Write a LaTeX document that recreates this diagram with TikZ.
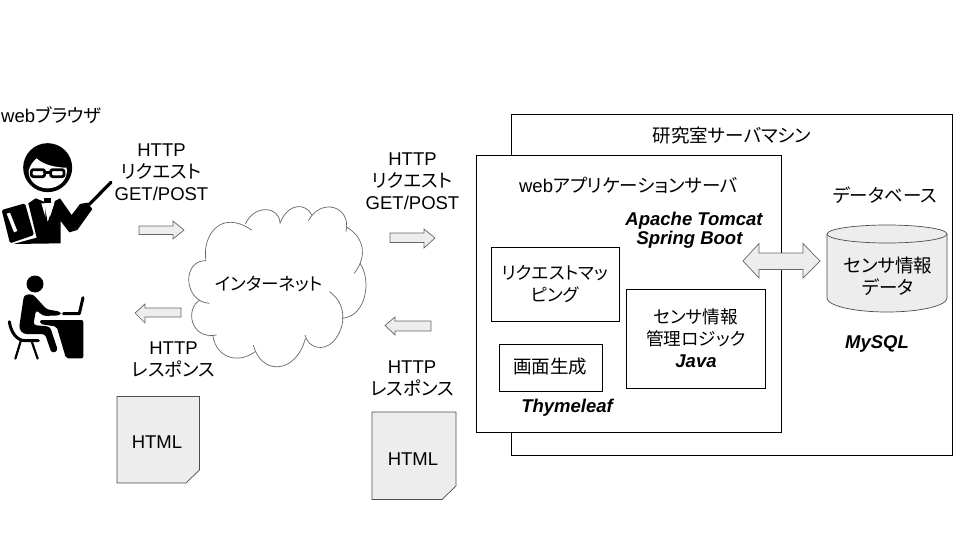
\documentclass[tikz,border=0pt]{standalone}
\usepackage{fontspec}
\setmainfont{Liberation Sans}
\newfontfamily\cjk[RawFeature=+palt]{Noto Sans CJK JP}
\newcommand{\J}[1]{{\cjk #1}}
\tikzset{
  x=1pt,y=-1pt,
  lab/.style={font=\fontsize{18.5}{22}\selectfont,align=center,inner sep=0pt},
  labk/.style={font=\fontsize{17.6}{22}\selectfont,align=center,inner sep=0pt},
  bi/.style={font=\fontsize{18.5}{19}\selectfont\bfseries\itshape,align=center,inner sep=0pt},
  box/.style={draw=black,fill=white,line width=.9pt},
  blockarrow/.style={draw=black!60,fill=black!7,line width=.7pt,line join=miter},
  docshape/.style={draw=black!70,fill=black!7,line width=.7pt},
  cloudline/.style={draw=black!60,line width=.7pt},
  picline/.style={draw=black,line cap=round,line join=round},
}
\begin{document}
\begin{tikzpicture}
\useasboundingbox (0,0) rectangle (960,540);
% servers
\node[box,anchor=north west,minimum width=441pt,minimum height=341pt,inner sep=0pt] (srv) at (511,114) {};
\node[box,anchor=north west,minimum width=305pt,minimum height=277pt,inner sep=0pt] (app) at (476,155) {};
\node[box,anchor=north west,minimum width=128pt,minimum height=74pt,inner sep=0pt] (map) at (491,247) {};
\node[box,anchor=north west,minimum width=103pt,minimum height=47pt,inner sep=0pt] (gen) at (499,344) {};
\node[box,anchor=north west,minimum width=139pt,minimum height=99pt,inner sep=0pt] (logic) at (626,289) {};
\node[lab] (tsrv) at (732,135) {\J{研究室サーバマシン}};
\node[lab] (tapp) at (628.5,185) {web\J{アプリケーションサーバ}};
\node[bi] (tomcat) at (694,220.5) {Apache Tomcat};
\node[bi] (tspring) at (689.5,239.5) {Spring Boot};
\node[lab] (tdb) at (885,195) {\J{データベース}};
\node[labk] (tmap) at (555,284) {\J{リクエストマッ}\\\J{ピング}};
\node[lab] (tgen) at (550,367) {\J{画面生成}};
\node[labk] (tlogic) at (696,327.5) {\J{センサ情報}\\\J{管理ロジック}};
\node[bi] (tjava) at (696,361.5) {Java};
\node[bi] (tthy) at (567,408) {Thymeleaf};
\node[bi] (tmy) at (877,344) {MySQL};
% double arrow
\draw[blockarrow] (743,261) -- (759,243.5) -- (759,253) -- (803,253) -- (803,243.5) -- (820,261) -- (803,278) -- (803,269.5) -- (759,269.5) -- (759,278) -- cycle;
% cylinder
\draw[draw=black!70,fill=black!7,line width=.7pt] (827,234) -- (827,298) arc[start angle=180,end angle=0,x radius=60,y radius=14] -- (947,234) arc[start angle=0,end angle=-180,x radius=60,y radius=9] -- cycle;
\draw[draw=black!70,line width=.7pt] (827,234) arc[start angle=180,end angle=0,x radius=60,y radius=9];
\node[lab] (tdata) at (888,276) {\J{センサ情報}\\\J{データ}};
% cloud
\begin{scope}[shift={(120,180)},x=.33333pt,y=-.33333pt]
\fill[white] (258,242) .. controls (245,170) and (300,100) .. (385,140) .. controls (410,70) and (470,70) .. (480,130) .. controls (510,60) and (560,70) .. (570,110) .. controls (620,50) and (690,90) .. (678,140) .. controls (730,170) and (740,220) .. (715,255) .. controls (750,300) and (740,410) .. (665,415) .. controls (670,470) and (600,530) .. (553,490) .. controls (530,570) and (430,590) .. (402,515) .. controls (360,550) and (290,540) .. (278,470) .. controls (210,470) and (200,390) .. (235,362) .. controls (190,340) and (200,240) .. (258,242) -- cycle;
\draw[cloudline] (258,242) .. controls (245,170) and (300,85) .. (395,150);
\draw[cloudline] (376,132) .. controls (405,70) and (480,80) .. (480,130);
\draw[cloudline] (480,130) .. controls (505,65) and (560,70) .. (575,105);
\draw[cloudline] (565,122) .. controls (605,50) and (695,80) .. (678,155);
\draw[cloudline] (678,140) .. controls (730,170) and (745,225) .. (703,280);
\draw[cloudline] (720,250) .. controls (755,300) and (740,410) .. (665,415);
\draw[cloudline] (628,335) .. controls (680,370) and (680,440) .. (640,485) .. controls (610,515) and (565,505) .. (555,465);
\draw[cloudline] (556,475) .. controls (530,580) and (425,590) .. (400,495);
\draw[cloudline] (405,515) .. controls (360,550) and (290,540) .. (278,465);
\draw[cloudline] (290,465) .. controls (210,480) and (195,385) .. (240,360);
\draw[cloudline] (268,370) .. controls (190,365) and (185,240) .. (258,242);
\end{scope}
\node[labk] (tnet) at (269,284) {\J{インターネット}};
% block arrows
\draw[blockarrow] (139,226) -- (173,226) -- (173,221) -- (184,230) -- (173,239) -- (173,234.5) -- (139,234.5) -- cycle;
\draw[blockarrow] (390,233) -- (424,233) -- (424,229) -- (435,238) -- (424,248) -- (424,242.5) -- (390,242.5) -- cycle;
\draw[blockarrow] (181,308) -- (145,308) -- (145,304) -- (135,313) -- (145,323) -- (145,317) -- (181,317) -- cycle;
\draw[blockarrow] (431,321) -- (395,321) -- (395,317) -- (385,325.5) -- (395,335) -- (395,331) -- (431,331) -- cycle;
% labels
\node[lab,anchor=west] (tweb) at (1,115) {web\J{ブラウザ}};
\node[lab] (treq1) at (161.5,172.5) {HTTP\\\J{リクエスト}\\GET/POST};
\node[lab] (treq2) at (412.5,181) {HTTP\\\J{リクエスト}\\GET/POST};
\node[lab] (tres1) at (173.5,359.5) {HTTP\\\J{レスポンス}};
\node[lab] (tres2) at (412,378.5) {HTTP\\\J{レスポンス}};
% documents
\draw[docshape] (117,396.5) -- (199.5,396.5) -- (199.5,470) -- (186,483) -- (117,483) -- cycle;
\draw[docshape] (372,412) -- (456,412) -- (456,486) -- (442,499.5) -- (372,499.5) -- cycle;
\node[lab] (thtml1) at (157,442) {HTML};
\node[lab] (thtml2) at (413,459) {HTML};
% presenter pictogram
\begin{scope}[shift={(0,135)},x=.33333pt,y=-.33333pt]
\fill[black] (143,98) circle[radius=24.5pt];
\fill[white] (86,108) .. controls (90,90) and (100,78) .. (110,70) .. controls (130,90) and (170,98) .. (200,98) .. controls (206,135) and (175,160) .. (143,160) .. controls (110,160) and (84,135) .. (86,108) -- cycle;
\draw[picline,line width=2.8pt,fill=white,rounded corners=2pt] (94,104) rectangle (134,125);
\draw[picline,line width=2.8pt,fill=white,rounded corners=2pt] (152,104) rectangle (192,125);
\draw[picline,line width=2.4pt] (134,112) -- (152,112);
% folder
\fill[black,rounded corners=1.5pt] (5,225) -- (75,205) -- (102,300) -- (30,325) -- cycle;
\fill[white] (20,236) -- (30,233) -- (52,288) -- (42,292) -- cycle;
% suit
\fill[black] (107,190) -- (132,200) -- (143,262) -- (165,198) -- (180,190) -- (215,240) -- (240,207) -- (262,203) -- (277,222) -- (232,285) -- (208,292) -- (182,258) -- (182,325) -- (40,327) -- (110,308) -- (85,205) -- cycle;
\fill[white] (124,205) -- (136,205) -- (136,245) -- cycle;
\fill[white] (150,205) -- (163,205) -- (150,245) -- cycle;
\fill[black] (132,188) rectangle (152,203);
\draw[white,line width=1pt] (143,212) -- (143,228);
\draw[picline,line width=3.2pt] (268,208) -- (333,142);
\end{scope}
% desk worker pictogram
\begin{scope}[shift={(0,270)},x=.33333pt,y=-.33333pt]
\fill[black] (105,42) circle[radius=8.5pt];
\fill[black,rounded corners=3pt] (72,75) -- (98,72) -- (140,118) -- (182,125) -- (182,136) -- (130,138) -- (108,120) -- (100,165) -- (150,170) -- (174,242) -- (155,250) -- (135,192) -- (70,192) -- (57,175) -- cycle;
\fill[black,rounded corners=2pt] (120,150) -- (250,150) -- (250,265) -- (198,265) -- (170,170) -- (120,162) -- cycle;
\draw[picline,line width=3pt] (190,131) -- (238,131) -- (249,83);
\draw[picline,line width=3pt] (28,155) .. controls (32,185) and (50,212) .. (75,212) -- (115,212);
\draw[picline,line width=2.2pt] (62,214) -- (46,266);
\draw[picline,line width=2.2pt] (95,214) -- (113,266);
\end{scope}
\end{tikzpicture}
\end{document}
